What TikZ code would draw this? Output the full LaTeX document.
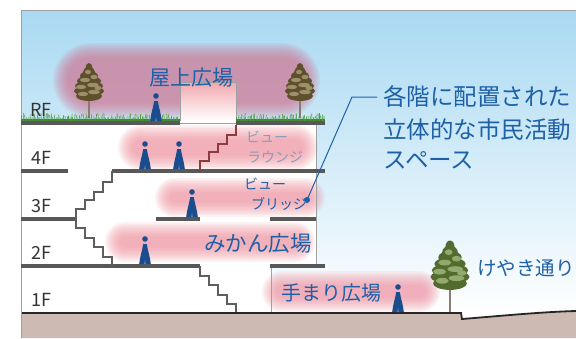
\documentclass[tikz,border=0pt]{standalone}
\usepackage{fontspec}
\newfontfamily\jp{Noto Sans CJK JP}
\usepackage{tikz}
\usetikzlibrary{calc}
\definecolor{skytop}{HTML}{A9D9F2}
\definecolor{frame}{HTML}{A0A0A0}
\definecolor{slab}{HTML}{585858}
\definecolor{stair}{HTML}{5E5E5E}
\definecolor{roofstair}{HTML}{8C3C3C}
\definecolor{jpblue}{HTML}{1E60A6}
\definecolor{figblue}{HTML}{1A4C8E}
\definecolor{glowpink}{HTML}{F08C9B}
\definecolor{glowmauve}{HTML}{D4708E}
\definecolor{earth}{HTML}{CDBBB3}
\definecolor{lounge}{HTML}{8A9CB8}
\definecolor{leafbrown}{HTML}{7D6A3A}
\definecolor{leafgreen}{HTML}{6F8E3E}
\definecolor{grassgreen}{HTML}{4E9A3E}
\definecolor{trunk}{HTML}{8A7D70}
\definecolor{floortext}{HTML}{333333}
\definecolor{roofpink}{HTML}{F2A7AE}

% soft pill-shaped glow: colour, x1, y1, x2, y2
\newcommand{\softglow}[5]{%
  \foreach \k in {0,...,9}{
    \pgfmathsetmacro{\dd}{\k*1.6}
    \pgfmathsetmacro{\rr}{max(0.5,(#5-#3)/2-\dd)}
    \fill[#1, opacity=0.1, rounded corners=\rr pt] (#2+\dd,#3+\dd) rectangle (#4-\dd,#5-\dd);
  }}

\tikzset{
  floor/.style={fill=slab},
  stairline/.style={draw=stair, line width=1.3pt, line join=miter},
  wall/.style={draw=frame, line width=0.8pt},
  flr/.style={font=\jp\fontsize{18}{18}\selectfont, text=floortext, inner sep=0pt},
  place/.style={font=\jp\fontsize{21}{21}\selectfont, text=jpblue, inner sep=0pt},
  small/.style={font=\jp\fontsize{14}{16}\selectfont, inner sep=0pt, anchor=west},
  note/.style={font=\jp\fontsize{23.5}{24}\selectfont, text=jpblue, inner sep=0pt, anchor=west},
  leader/.style={draw=jpblue, line width=1pt},
  person/.pic={
    \fill[figblue] (0,-25) circle (2.8);
    \fill[figblue] (-5.8,0) .. controls (-5.2,-7) and (-2.6,-14) .. (-1.8,-20)
      -- (1.8,-20) .. controls (2.6,-14) and (5.2,-7) .. (5.8,0) -- cycle;
    \fill[white, opacity=0.5] (-0.6,0) -- (0,-4) -- (0.6,0) -- cycle;
  },
  pics/tree/.style={code={
    \draw[trunk, line width=1.2pt] (0,0) -- (0,-30);
    % crown, built up in layers that narrow towards the top
    \foreach \b/\w in {-22/13, -27/15, -32/14, -37/12, -42/9, -46/6, -50/3.5}
      \fill[#1!75!black] (0,\b) ellipse (\w pt and 5pt);
    \foreach \a/\b/\w in {-6/-24/5, 5/-26/6, -8/-31/5, 4/-33/6, -4/-38/5, 5/-41/3.5, -1/-46/3, 9/-30/3.5}
      \fill[#1!75!white] (\a,\b) ellipse (\w pt and 2.2pt);
  }},
}

\begin{document}
\begin{tikzpicture}[x=1pt, y=-1pt]
  \useasboundingbox (0,0) rectangle (576,338);
  \fill[white] (0,0) rectangle (576,338);

  % sky and building body
  \shade[top color=skytop, middle color=skytop!40!white, bottom color=white] (21,10) rectangle (576,313);
  \fill[white] (21,121) rectangle (316,266);
  \fill[white] (21,266) rectangle (271,313);

  % activity glows
  \softglow{glowmauve}{53}{43}{320}{118}
  \softglow{glowpink}{118}{125}{318}{170}
  \softglow{glowpink}{155}{178}{325}{217}
  \softglow{glowpink}{105}{222}{315}{262}
  \softglow{glowpink}{262}{271}{440}{312}

  % rooftop pavilion
  \shade[top color=roofpink, bottom color=white] (180,82) rectangle (236,121);
  \draw[wall] (180,121) -- (180,82) -- (236,82) -- (236,125);
  \draw[wall] (180,123) -- (236,123);

  % walls
  \draw[wall] (316,121) -- (316,266);
  \draw[wall] (271,266) -- (271,313);

  % ground
  \fill[earth] (21,313) -- (461,313) -- (462,319) .. controls (500,316) and (540,312) .. (576,311)
    -- (576,338) -- (21,338) -- cycle;
  \draw[black!85, line width=1.8pt] (21,313) -- (461,313) -- (462,319) .. controls (500,316) and (540,312) .. (576,311);

  % outer frame
  \draw[wall] (21,338) -- (21,10) -- (576,10);

  % floor slabs
  \fill[floor] (21,121) rectangle (180,125);
  \fill[floor] (236,121) rectangle (325,125);
  \fill[floor] (21,169) rectangle (68,173);
  \fill[floor] (112,169) rectangle (325,173);
  \fill[floor] (21,217) rectangle (76,221);
  \fill[floor] (156,217) rectangle (200,221);
  \fill[floor] (270,217) rectangle (316,221);
  \fill[floor] (21,264) rectangle (200,268);
  \fill[floor] (270,264) rectangle (325,268);

  % stairs
  \draw[stairline] (112,171) -- (112,182) -- (103,182) -- (103,192) -- (94,192) -- (94,200)
    -- (85,200) -- (85,209) -- (76,209) -- (76,228) -- (85,228) -- (85,238) -- (94,238)
    -- (94,247) -- (103,247) -- (103,257) -- (112,257) -- (112,266);
  \draw[stairline] (200,266) -- (200,276) -- (209,276) -- (209,285) -- (218,285) -- (218,295)
    -- (227,295) -- (227,304) -- (236,304) -- (236,312);
  \draw[stairline, draw=roofstair] (200,171) -- (200,161) -- (209,161) -- (209,152) -- (218,152)
    -- (218,144) -- (227,144) -- (227,135) -- (236,135) -- (236,125);

  % trees
  \pic at (89,118) {tree=leafbrown};
  \pic at (300,118) {tree=leafbrown};
  \pic[scale=1.3] at (450,312) {tree=leafgreen};

  % roof lawn
  \fill[grassgreen!80!black] (21,119) rectangle (180,121);
  \fill[grassgreen!80!black] (236,119) rectangle (325,121);
  \pgfmathsetseed{7}
  \foreach \x in {22,23.5,...,179}{
    \draw[grassgreen, line width=0.6pt] (\x,121) -- ++({2*rnd-1},{-3-5*rnd});
  }
  \foreach \x in {237,238.5,...,324}{
    \draw[grassgreen, line width=0.6pt] (\x,121) -- ++({2*rnd-1},{-3-5*rnd});
  }

  % people
  \pic at (156,121) {person};
  \pic at (145,169) {person};
  \pic at (179,169) {person};
  \pic at (192,217) {person};
  \pic at (145,264) {person};
  \pic at (398,312) {person};

  % floor labels
  \node[flr] (rf) at (41,110) {RF};
  \node[flr] (f4) at (41,158) {4F};
  \node[flr] (f3) at (41,206) {3F};
  \node[flr] (f2) at (41,253) {2F};
  \node[flr] (f1) at (41,300) {1F};

  % place names
  \node[place] (roofplaza) at (191,78) {屋上広場};
  \node[small, text=lounge] (lounge1) at (246,137) {ビュー};
  \node[small, text=lounge] (lounge2) at (247,157) {ラウンジ};
  \node[small, text=jpblue] (bridge1) at (244,184) {ビュー};
  \node[small, text=jpblue] (bridge2) at (251,204) {ブリッジ};
  \node[place, font=\jp\fontsize{21.5}{22}\selectfont] (mikan) at (258,243) {みかん広場};
  \node[place, font=\jp\fontsize{20}{20}\selectfont] (temari) at (331,293) {手まり広場};
  \node[place, font=\jp\fontsize{19.5}{20}\selectfont, anchor=west] (keyaki) at (477,268) {けやき通り};

  % callout
  \node[note] (note1) at (383,97) {各階に配置された};
  \node[note] (note2) at (383,130) {立体的な市民活動};
  \node[note] (note3) at (383,160) {スペース};
  \coordinate (bridgedot) at (307,200);
  \coordinate (bend) at (352,97);
  \draw[leader] (bridgedot) -- (bend) -- ([xshift=-6pt]note1.west);
  \fill[jpblue] (bridgedot) circle (3);
\end{tikzpicture}
\end{document}
